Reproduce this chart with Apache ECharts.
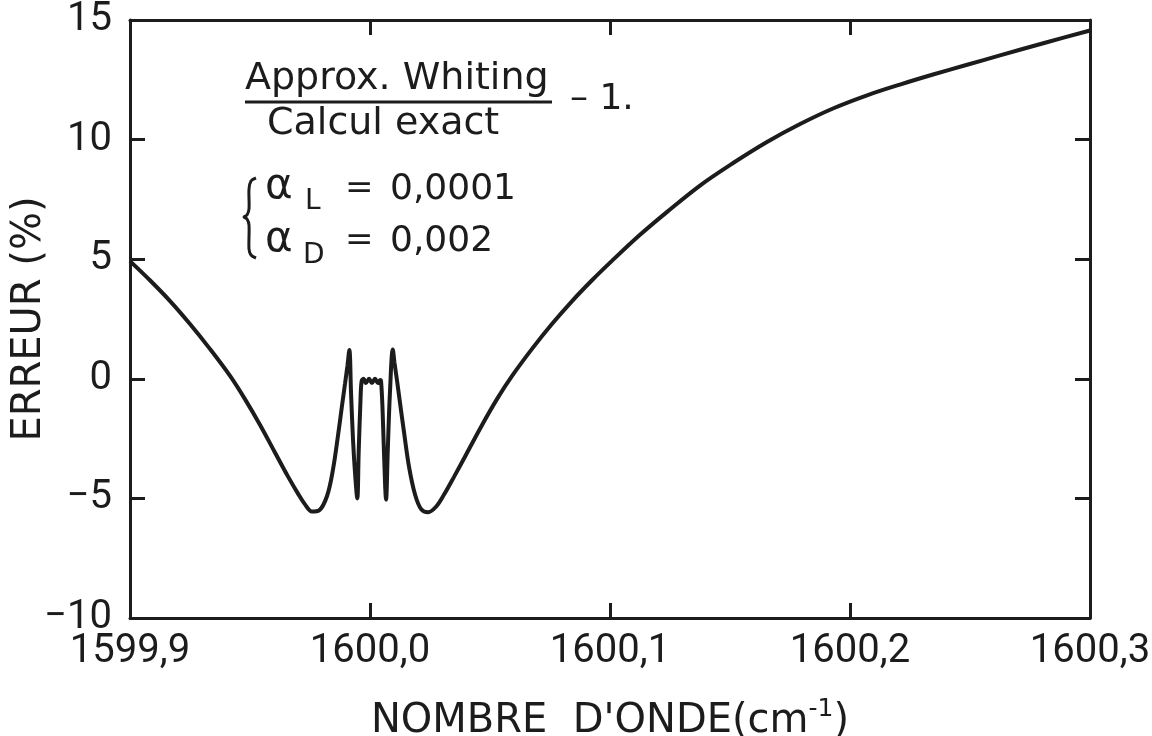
<!DOCTYPE html>
<html>
<head>
<meta charset="utf-8">
<script src="https://cdn.jsdelivr.net/npm/echarts@6/dist/echarts.min.js"></script>
<style>
html,body{margin:0;padding:0;background:#fff;}
#c{width:1152px;height:736px;}
</style>
</head>
<body>
<div id="c"></div>
<script>
// Wavenumber (cm-1)
const waveNumbers = [
  1599.9000, 1599.9083, 1599.9167, 1599.9250, 1599.9333, 1599.9417, 1599.9479, 1599.9542,
  1599.9604, 1599.9658, 1599.9700, 1599.9729, 1599.9758, 1599.9788, 1599.9821, 1599.9846,
  1599.9867, 1599.9883, 1599.9896, 1599.9906, 1599.9914, 1599.9921, 1599.9929, 1599.9938,
  1599.9947, 1599.9953, 1599.9960, 1599.9965, 1599.9973, 1599.9983, 1599.9996, 1600.0008,
  1600.0021, 1600.0033, 1600.0042, 1600.0046, 1600.0052, 1600.0058, 1600.0067, 1600.0074,
  1600.0083, 1600.0095, 1600.0102, 1600.0113, 1600.0125, 1600.0142, 1600.0163, 1600.0188,
  1600.0213, 1600.0242, 1600.0275, 1600.0308, 1600.0350, 1600.0404, 1600.0467, 1600.0529,
  1600.0592, 1600.0675, 1600.0758, 1600.0842, 1600.0925, 1600.1008, 1600.1125, 1600.1238,
  1600.1375, 1600.1513, 1600.1654, 1600.1792, 1600.1929, 1600.2071, 1600.2208, 1600.2346,
  1600.2488, 1600.2625, 1600.2813, 1600.3000
];
// Error (%)
const errorPct = [
  4.92, 4.12, 3.25, 2.29, 1.25, 0.12, -0.85, -1.93,
  -3.08, -4.08, -4.8, -5.25, -5.55, -5.5, -4.9, -3.78,
  -2.35, -1.15, -0.2, 0.55, 1.2, -0.6, -2.5, -4.0,
  -5.0, -3.0, -1.0, -0.1, 0.0, -0.18, 0.0, -0.18,
  0.0, -0.18, -0.05, -0.1, -1.2, -3.0, -5.05, -3.0,
  -0.6, 1.23, 0.67, -0.1, -1.0, -2.25, -3.7, -4.85,
  -5.45, -5.58, -5.35, -4.85, -4.1, -3.1, -1.93, -0.85,
  0.12, 1.25, 2.29, 3.25, 4.12, 4.93, 6.02, 6.98,
  8.08, 9.02, 9.9, 10.65, 11.3, 11.85, 12.3, 12.72,
  13.13, 13.52, 14.05, 14.56
];
const xMin = 1599.9, xMax = 1600.3, xStep = 0.1;
const yMin = -10, yMax = 15, yStep = 5;

const ink = '#1c1c1c';
const FONT = 'DejaVu Sans';
const TICKFONT = 'Roboto';

const chart = echarts.init(document.getElementById('c'));
const series = waveNumbers.map((x, i) => [x, errorPct[i]]);

const axisLine = {show: true, onZero: false, lineStyle: {color: ink, width: 3}};
const tickIn = {show: true, inside: true, length: 15, lineStyle: {color: ink, width: 3}};

function txt(x, y, s, size) {
  return {type: 'text', x: x, y: y, style: {text: s, fontFamily: FONT, fontSize: size, fill: ink, textVerticalAlign: 'top'}};
}

chart.setOption({
  backgroundColor: '#fff',
  animation: false,
  grid: {left: 130, right: 62, top: 20, bottom: 118, containLabel: false, outerBoundsMode: 'none'},
  xAxis: [{
    type: 'value', min: xMin, max: xMax, interval: xStep,
    axisLine: axisLine, axisTick: tickIn, splitLine: {show: false},
    axisLabel: {
      color: ink, fontFamily: TICKFONT, fontSize: 40, margin: 14,
      formatter: v => v.toFixed(1).replace('.', ',')
    },
    name: "NOMBRE  D'ONDE(cm{sup|-1})",
    nameLocation: 'middle', nameGap: 79,
    nameTextStyle: {
      color: ink, fontFamily: FONT, fontSize: 40,
      rich: {sup: {fontSize: 25, verticalAlign: 'top', padding: [0, 0, 24, 0], color: ink, fontFamily: FONT}}
    }
  }, {
    type: 'value', position: 'top', min: xMin, max: xMax, interval: xStep,
    axisLine: axisLine, axisTick: tickIn, axisLabel: {show: false}, splitLine: {show: false}
  }],
  yAxis: [{
    type: 'value', min: yMin, max: yMax, interval: yStep,
    axisLine: axisLine, axisTick: tickIn, splitLine: {show: false},
    axisLabel: {
      color: ink, fontFamily: TICKFONT, fontSize: 40, margin: 18,
      formatter: v => (v < 0 ? '\u2212' + Math.abs(v) : String(v))
    },
    name: 'ERREUR (%)', nameLocation: 'middle', nameGap: 80, nameRotate: 90,
    nameMoveOverlap: false,
    nameTextStyle: {color: ink, fontFamily: FONT, fontSize: 40}
  }, {
    type: 'value', position: 'right', min: yMin, max: yMax, interval: yStep,
    axisLine: axisLine, axisTick: tickIn, axisLabel: {show: false}, splitLine: {show: false}
  }],
  series: [{
    type: 'line', data: series, showSymbol: false, smooth: 0.35,
    lineStyle: {color: ink, width: 4}, z: 5
  }],
  graphic: [
    txt(245, 60, 'Approx. Whiting', 38),
    {type: 'line', shape: {x1: 245, y1: 102, x2: 552, y2: 102}, style: {stroke: ink, lineWidth: 3}},
    txt(267, 105, 'Calcul exact', 38),
    txt(570, 82, '\u2013 1.', 36),
    {type: 'polyline', shape: {smooth: 0.3, points: [[256,178],[251,181],[249,189],[249,209],[247,215],[244,217],[247,219],[249,225],[249,249],[251,255],[256,258]]},
      style: {stroke: ink, lineWidth: 3, fill: null}},
    txt(265, 166, '\u03b1', 42),
    txt(305, 188, 'L', 28),
    txt(345, 172, '=', 34),
    txt(390, 172, '0,0001', 36),
    txt(265, 219, '\u03b1', 42),
    txt(303, 242, 'D', 28),
    txt(345, 224, '=', 34),
    txt(390, 224, '0,002', 36)
  ]
});
</script>
</body>
</html>
